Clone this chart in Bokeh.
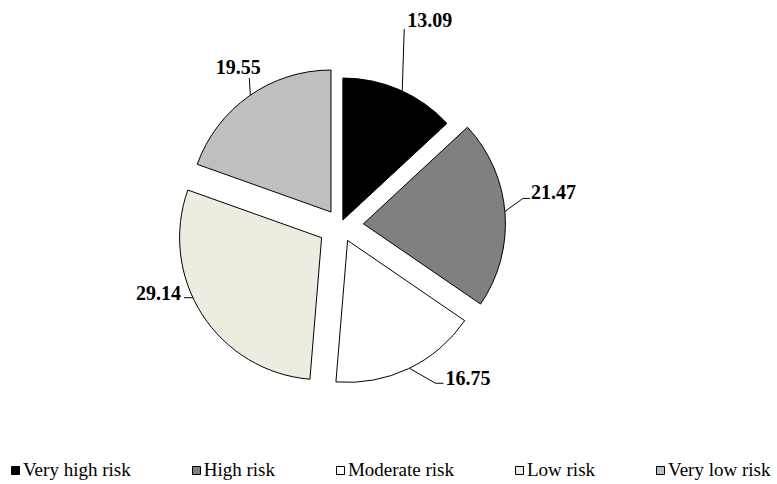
import math
from bokeh.plotting import figure
from bokeh.models import Range1d, ColumnDataSource, Legend, LegendItem
from bokeh.core.properties import value
from bokeh.embed import file_html
from bokeh.resources import INLINE

# ---- data ----
categories = ["Very high risk", "High risk", "Moderate risk", "Low risk", "Very low risk"]
shares = [13.09, 21.47, 16.75, 29.14, 19.55]
colors = ["#000000", "#808080", "#ffffff", "#eeece1", "#bfbfbf"]

# ---- layout (pixels, origin top-left) ----
W, H = 777, 484
CX, CY = 340, 225
R = 142
explode = [6, 23, 16.5, 22.5, 16.5]
leader_angle = [24.7, 85, 154.2, 245, 325.4]   # deg clockwise from top
leader_path = [[(2, -62)], [(18, -13), (25, -13)], [(26, 15), (34, 15)], [(-9, 0)], [(-1, -17)]]
label_offset = [(5, -71), (26, -19), (36, 10), (-12, -5), (-12, -28)]
label_align = ["left", "left", "left", "right", "center"]

total = sum(shares)
starts, ends, xs, ys = [], [], [], []
apex = []
cum = 0.0
for s, d in zip(shares, explode):
    a0 = cum / total * 2 * math.pi
    cum += s
    a1 = cum / total * 2 * math.pi
    mid = (a0 + a1) / 2
    px = CX + d * math.sin(mid)
    py = CY - d * math.cos(mid)
    apex.append((px, py))
    xs.append(px)
    ys.append(H - py)
    starts.append(math.pi / 2 - a0)
    ends.append(math.pi / 2 - a1)

src = ColumnDataSource(dict(x=xs, y=ys, start=starts, end=ends, color=colors, cat=categories))

p = figure(width=W, height=H, x_range=Range1d(0, W), y_range=Range1d(0, H),
           output_backend="svg", toolbar_location=None, min_border=0,
           x_axis_type=None, y_axis_type=None)
p.grid.visible = False
p.outline_line_color = None
p.background_fill_color = "white"
p.border_fill_color = "white"

wr = p.wedge(x="x", y="y", radius=R, start_angle="start", end_angle="end",
             direction="clock", fill_color="color", line_color="#000000",
             line_width=1, source=src)

# leader lines and labels
lx, ly, tx, ty, tt, ta = [], [], [], [], [], []
for i, s in enumerate(shares):
    th = math.radians(leader_angle[i])
    ax = apex[i][0] + R * math.sin(th)
    ay = apex[i][1] - R * math.cos(th)
    px_ = [ax] + [ax + o[0] for o in leader_path[i]]
    py_ = [ay] + [ay + o[1] for o in leader_path[i]]
    lx.append(px_)
    ly.append([H - v for v in py_])
    tx.append(ax + label_offset[i][0])
    ty.append(H - (ay + label_offset[i][1]))
    tt.append("%.2f" % s)
    ta.append(label_align[i])

p.multi_line(xs=lx, ys=ly, line_color="#000000", line_width=1)
lsrc = ColumnDataSource(dict(x=tx, y=ty, t=tt, a=ta))
p.text(x="x", y="y", text="t", text_align="a", source=lsrc,
       text_baseline="middle", text_font=value("Liberation Serif"),
       text_font_style="bold", text_font_size="20px", text_color="#000000")

legend = Legend(items=[LegendItem(label=c, renderers=[wr], index=i) for i, c in enumerate(categories)],
                orientation="horizontal", location=(10, 3))
legend.label_text_font = "Liberation Serif"
legend.label_text_font_size = "19px"
legend.label_text_color = "#000000"
legend.glyph_width = 10
legend.glyph_height = 10
legend.label_standoff = 3
legend.label_height = 16
legend.spacing = 60
legend.padding = 0
legend.margin = 0
legend.border_line_alpha = 0
legend.background_fill_alpha = 0
p.add_layout(legend)

open("out.html", "w").write(file_html(p, INLINE))
